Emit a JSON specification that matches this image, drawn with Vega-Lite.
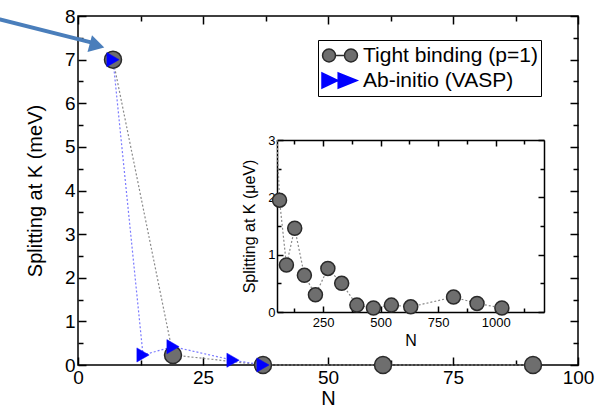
{
  "$schema": "https://vega.github.io/schema/vega-lite/v6.json",
  "width": 500,
  "height": 349,
  "autosize": "none",
  "padding": {"left": 78, "top": 16, "right": 26, "bottom": 44},
  "background": "white",
  "config": {
    "font": "Liberation Sans",
    "view": {"stroke": "black", "strokeWidth": 1.5},
    "axis": {
      "grid": false,
      "labelFont": "Liberation Sans",
      "titleFont": "Liberation Sans",
      "labelColor": "black",
      "titleColor": "black",
      "tickColor": "black",
      "domainColor": "black",
      "domainWidth": 1.5,
      "tickWidth": 1.5,
      "labelFontWeight": "normal",
      "titleFontWeight": "normal",
      "labelOverlap": false,
      "labelFlush": false,
      "format": "d"
    }
  },
  "datasets": {
    "main": [
      {"series": "Tight binding (p=1)", "N": 7, "S": 7.0},
      {"series": "Tight binding (p=1)", "N": 19, "S": 0.23},
      {"series": "Tight binding (p=1)", "N": 37, "S": 0.0},
      {"series": "Tight binding (p=1)", "N": 61, "S": 0.0},
      {"series": "Tight binding (p=1)", "N": 91, "S": 0.0},
      {"series": "Ab-initio (VASP)", "N": 7, "S": 7.0},
      {"series": "Ab-initio (VASP)", "N": 13, "S": 0.23},
      {"series": "Ab-initio (VASP)", "N": 19, "S": 0.42},
      {"series": "Ab-initio (VASP)", "N": 31, "S": 0.11},
      {"series": "Ab-initio (VASP)", "N": 37, "S": 0.0}
    ],
    "inset": [
      {"N": 37, "S": 4.5, "shown": false},
      {"N": 61, "S": 1.95, "shown": true},
      {"N": 91, "S": 0.82, "shown": true},
      {"N": 127, "S": 1.46, "shown": true},
      {"N": 169, "S": 0.64, "shown": true},
      {"N": 217, "S": 0.30, "shown": true},
      {"N": 271, "S": 0.76, "shown": true},
      {"N": 331, "S": 0.50, "shown": true},
      {"N": 397, "S": 0.12, "shown": true},
      {"N": 469, "S": 0.07, "shown": true},
      {"N": 547, "S": 0.12, "shown": true},
      {"N": 631, "S": 0.09, "shown": true},
      {"N": 817, "S": 0.26, "shown": true},
      {"N": 919, "S": 0.15, "shown": true},
      {"N": 1027, "S": 0.07, "shown": true}
    ],
    "arrow": [
      {"N": -15.6, "S": 7.92, "N2": 2.4, "S2": 7.4}
    ],
    "arrowhead": [
      {"N": 3.8, "S": 7.32}
    ]
  },
  "layer": [
    {
      "layer": [
        {
          "data": {"name": "main"},
          "transform": [{"filter": "datum.series == 'Tight binding (p=1)'"}],
          "mark": {"type": "line", "color": "#8a8a8a", "strokeWidth": 1.2, "strokeDash": [2, 2]},
          "encoding": {
            "x": {"field": "N", "type": "quantitative", "scale": {"domain": [0, 100], "nice": false, "zero": false}, "axis": null},
            "y": {"field": "S", "type": "quantitative", "scale": {"domain": [0, 8], "nice": false}, "axis": null}
          }
        },
        {
          "data": {"name": "main"},
          "transform": [{"filter": "datum.series == 'Ab-initio (VASP)'"}],
          "mark": {"type": "line", "color": "#7a7aff", "strokeWidth": 1.2, "strokeDash": [2, 2]},
          "encoding": {
            "x": {"field": "N", "type": "quantitative", "scale": {"domain": [0, 100], "nice": false, "zero": false}, "axis": null},
            "y": {"field": "S", "type": "quantitative", "scale": {"domain": [0, 8], "nice": false}, "axis": null}
          }
        },
        {
          "data": {"name": "main"},
          "transform": [{"filter": "datum.series == 'Tight binding (p=1)'"}],
          "mark": {"type": "point", "shape": "circle", "filled": true, "fill": "#6e6e6e", "stroke": "#2a2a2a", "strokeWidth": 1.5, "opacity": 1, "size": 289},
          "encoding": {
            "x": {"field": "N", "type": "quantitative", "scale": {"domain": [0, 100], "nice": false, "zero": false},
              "axis": {"orient": "bottom", "domain": false, "values": [0, 12.5, 25, 37.5, 50, 62.5, 75, 87.5, 100],
                "labelExpr": "datum.value % 25 == 0 ? datum.label : ''",
                "tickSize": {"condition": {"test": "datum.value % 25 == 0", "value": -8}, "value": -5},
                "labelFontSize": 19, "labelPadding": 11, "title": "N", "titleFontSize": 20, "titlePadding": -2}},
            "y": {"field": "S", "type": "quantitative", "scale": {"domain": [0, 8], "nice": false},
              "axis": {"orient": "left", "domain": false, "values": [0, 0.5, 1, 1.5, 2, 2.5, 3, 3.5, 4, 4.5, 5, 5.5, 6, 6.5, 7, 7.5, 8],
                "labelExpr": "datum.value % 1 == 0 ? datum.label : ''",
                "tickSize": {"condition": {"test": "datum.value % 1 == 0", "value": -8}, "value": -5},
                "labelFontSize": 19, "labelPadding": 11, "title": "Splitting at K (meV)", "titleFontSize": 20, "titlePadding": 19}}
          }
        },
        {
          "data": {"name": "main"},
          "transform": [{"filter": "datum.series == 'Ab-initio (VASP)'"}],
          "mark": {"type": "point", "shape": "triangle-right", "filled": true, "fill": "#0000ff", "stroke": "#0000ff", "strokeWidth": 0.5, "opacity": 1, "size": 200},
          "encoding": {
            "x": {"field": "N", "type": "quantitative", "scale": {"domain": [0, 100], "nice": false, "zero": false}, "axis": null},
            "y": {"field": "S", "type": "quantitative", "scale": {"domain": [0, 8], "nice": false}, "axis": null}
          }
        },
        {
          "data": {"name": "main"},
          "mark": {"type": "point", "opacity": 0},
          "encoding": {
            "x": {"field": "N", "type": "quantitative", "scale": {"domain": [0, 100], "nice": false, "zero": false},
              "axis": {"orient": "top", "domain": false, "labels": false, "title": null, "values": [0, 12.5, 25, 37.5, 50, 62.5, 75, 87.5, 100],
                "tickSize": {"condition": {"test": "datum.value % 25 == 0", "value": -8}, "value": -5}}},
            "y": {"field": "S", "type": "quantitative", "scale": {"domain": [0, 8], "nice": false},
              "axis": {"orient": "right", "domain": false, "labels": false, "title": null, "values": [0, 0.5, 1, 1.5, 2, 2.5, 3, 3.5, 4, 4.5, 5, 5.5, 6, 6.5, 7, 7.5, 8],
                "tickSize": {"condition": {"test": "datum.value % 1 == 0", "value": -8}, "value": -5}}}
          }
        },
        {
          "data": {"name": "arrow"},
          "mark": {"type": "rule", "color": "#4a7ebb", "strokeWidth": 4, "strokeCap": "round"},
          "encoding": {
            "x": {"field": "N", "type": "quantitative", "scale": {"domain": [0, 100], "nice": false, "zero": false}, "axis": null},
            "y": {"field": "S", "type": "quantitative", "scale": {"domain": [0, 8], "nice": false}, "axis": null},
            "x2": {"field": "N2"},
            "y2": {"field": "S2"}
          }
        },
        {
          "data": {"name": "arrowhead"},
          "mark": {"type": "point", "shape": "triangle-right", "filled": true, "color": "#4a7ebb", "opacity": 1, "size": 300, "angle": 15},
          "encoding": {
            "x": {"field": "N", "type": "quantitative", "scale": {"domain": [0, 100], "nice": false, "zero": false}, "axis": null},
            "y": {"field": "S", "type": "quantitative", "scale": {"domain": [0, 8], "nice": false}, "axis": null}
          }
        },
        {
          "data": {"name": "main"},
          "transform": [{"filter": "datum.N < 0"}],
          "mark": {"type": "point", "filled": true, "opacity": 1, "strokeWidth": 1.5},
          "encoding": {
            "shape": {"field": "series", "type": "nominal",
              "scale": {"domain": ["Tight binding (p=1)", "Ab-initio (VASP)"],
                "range": ["M-0.97,0A0.36,0.36 0 1,0 -0.25,0A0.36,0.36 0 1,0 -0.97,0ZM0.25,0A0.36,0.36 0 1,0 0.97,0A0.36,0.36 0 1,0 0.25,0ZM-0.25,0L0.25,0",
                          "M-1,-0.42L-0.12,0L-1,0.42ZM-0.1,-0.42L0.95,0L-0.1,0.42ZM-0.2,0L-0.1,0"]},
              "legend": {"orient": "none", "legendX": 240, "legendY": 24, "title": null, "symbolSize": 1296, "clipHeight": 25,
                "strokeColor": "black", "fillColor": "white", "padding": 3, "rowPadding": 0, "labelOffset": 4, "labelLimit": 400,
                "labelFont": "Liberation Sans", "labelFontSize": 21, "labelColor": "black", "symbolStrokeWidth": 1.5}},
            "fill": {"field": "series", "type": "nominal",
              "scale": {"domain": ["Tight binding (p=1)", "Ab-initio (VASP)"], "range": ["#6e6e6e", "#0000ff"]}},
            "stroke": {"field": "series", "type": "nominal",
              "scale": {"domain": ["Tight binding (p=1)", "Ab-initio (VASP)"], "range": ["#2a2a2a", "#0000ff"]}}
          }
        }
      ],
      "resolve": {"axis": {"x": "independent", "y": "independent"}}
    },
    {
      "layer": [
        {
          "data": {"name": "inset"},
          "mark": {"type": "line", "color": "#8a8a8a", "strokeWidth": 1.2, "strokeDash": [2, 2]},
          "encoding": {
            "x": {"field": "N", "type": "quantitative", "scale": {"domain": [50, 1210], "range": [199, 466], "nice": false, "zero": false, "clamp": true}, "axis": null},
            "y": {"field": "S", "type": "quantitative", "scale": {"domain": [0, 3], "range": [296, 124], "nice": false, "clamp": true}, "axis": null}
          }
        },
        {
          "data": {"name": "inset"},
          "transform": [{"filter": "datum.shown"}],
          "mark": {"type": "point", "shape": "circle", "filled": true, "fill": "#6e6e6e", "stroke": "#2a2a2a", "strokeWidth": 1.5, "opacity": 1, "size": 196},
          "encoding": {
            "x": {"field": "N", "type": "quantitative", "scale": {"domain": [50, 1210], "range": [199, 466], "nice": false, "zero": false, "clamp": true},
              "axis": {"orient": "bottom", "offset": -53, "domain": true, "values": [125, 250, 375, 500, 625, 750, 875, 1000, 1125],
                "labelExpr": "datum.value % 250 == 0 ? datum.label : ''",
                "tickSize": {"condition": {"test": "datum.value % 250 == 0", "value": -6}, "value": -4},
                "labelFontSize": 13, "labelPadding": 10, "title": "N", "titleFontSize": 16, "titlePadding": 1}},
            "y": {"field": "S", "type": "quantitative", "scale": {"domain": [0, 3], "range": [296, 124], "nice": false, "clamp": true},
              "axis": {"orient": "left", "offset": -199, "domain": true, "values": [0, 0.5, 1, 1.5, 2, 2.5, 3],
                "labelExpr": "datum.value % 1 == 0 ? datum.label : ''",
                "tickSize": {"condition": {"test": "datum.value % 1 == 0", "value": -6}, "value": -4},
                "labelFontSize": 13, "labelPadding": 8, "title": "Splitting at K (μeV)", "titleFontSize": 16, "titlePadding": 10}}
          }
        },
        {
          "data": {"name": "inset"},
          "mark": {"type": "point", "opacity": 0},
          "encoding": {
            "x": {"field": "N", "type": "quantitative", "scale": {"domain": [50, 1210], "range": [199, 466], "nice": false, "zero": false, "clamp": true},
              "axis": {"orient": "top", "offset": -124, "domain": true, "labels": false, "title": null, "values": [125, 250, 375, 500, 625, 750, 875, 1000, 1125],
                "tickSize": {"condition": {"test": "datum.value % 250 == 0", "value": -6}, "value": -4}}},
            "y": {"field": "S", "type": "quantitative", "scale": {"domain": [0, 3], "range": [296, 124], "nice": false, "clamp": true},
              "axis": {"orient": "right", "offset": -34, "domain": true, "labels": false, "title": null, "values": [0, 0.5, 1, 1.5, 2, 2.5, 3],
                "tickSize": {"condition": {"test": "datum.value % 1 == 0", "value": -6}, "value": -4}}}
          }
        }
      ],
      "resolve": {"axis": {"x": "independent", "y": "independent"}}
    }
  ],
  "resolve": {"scale": {"x": "independent", "y": "independent"}}
}
